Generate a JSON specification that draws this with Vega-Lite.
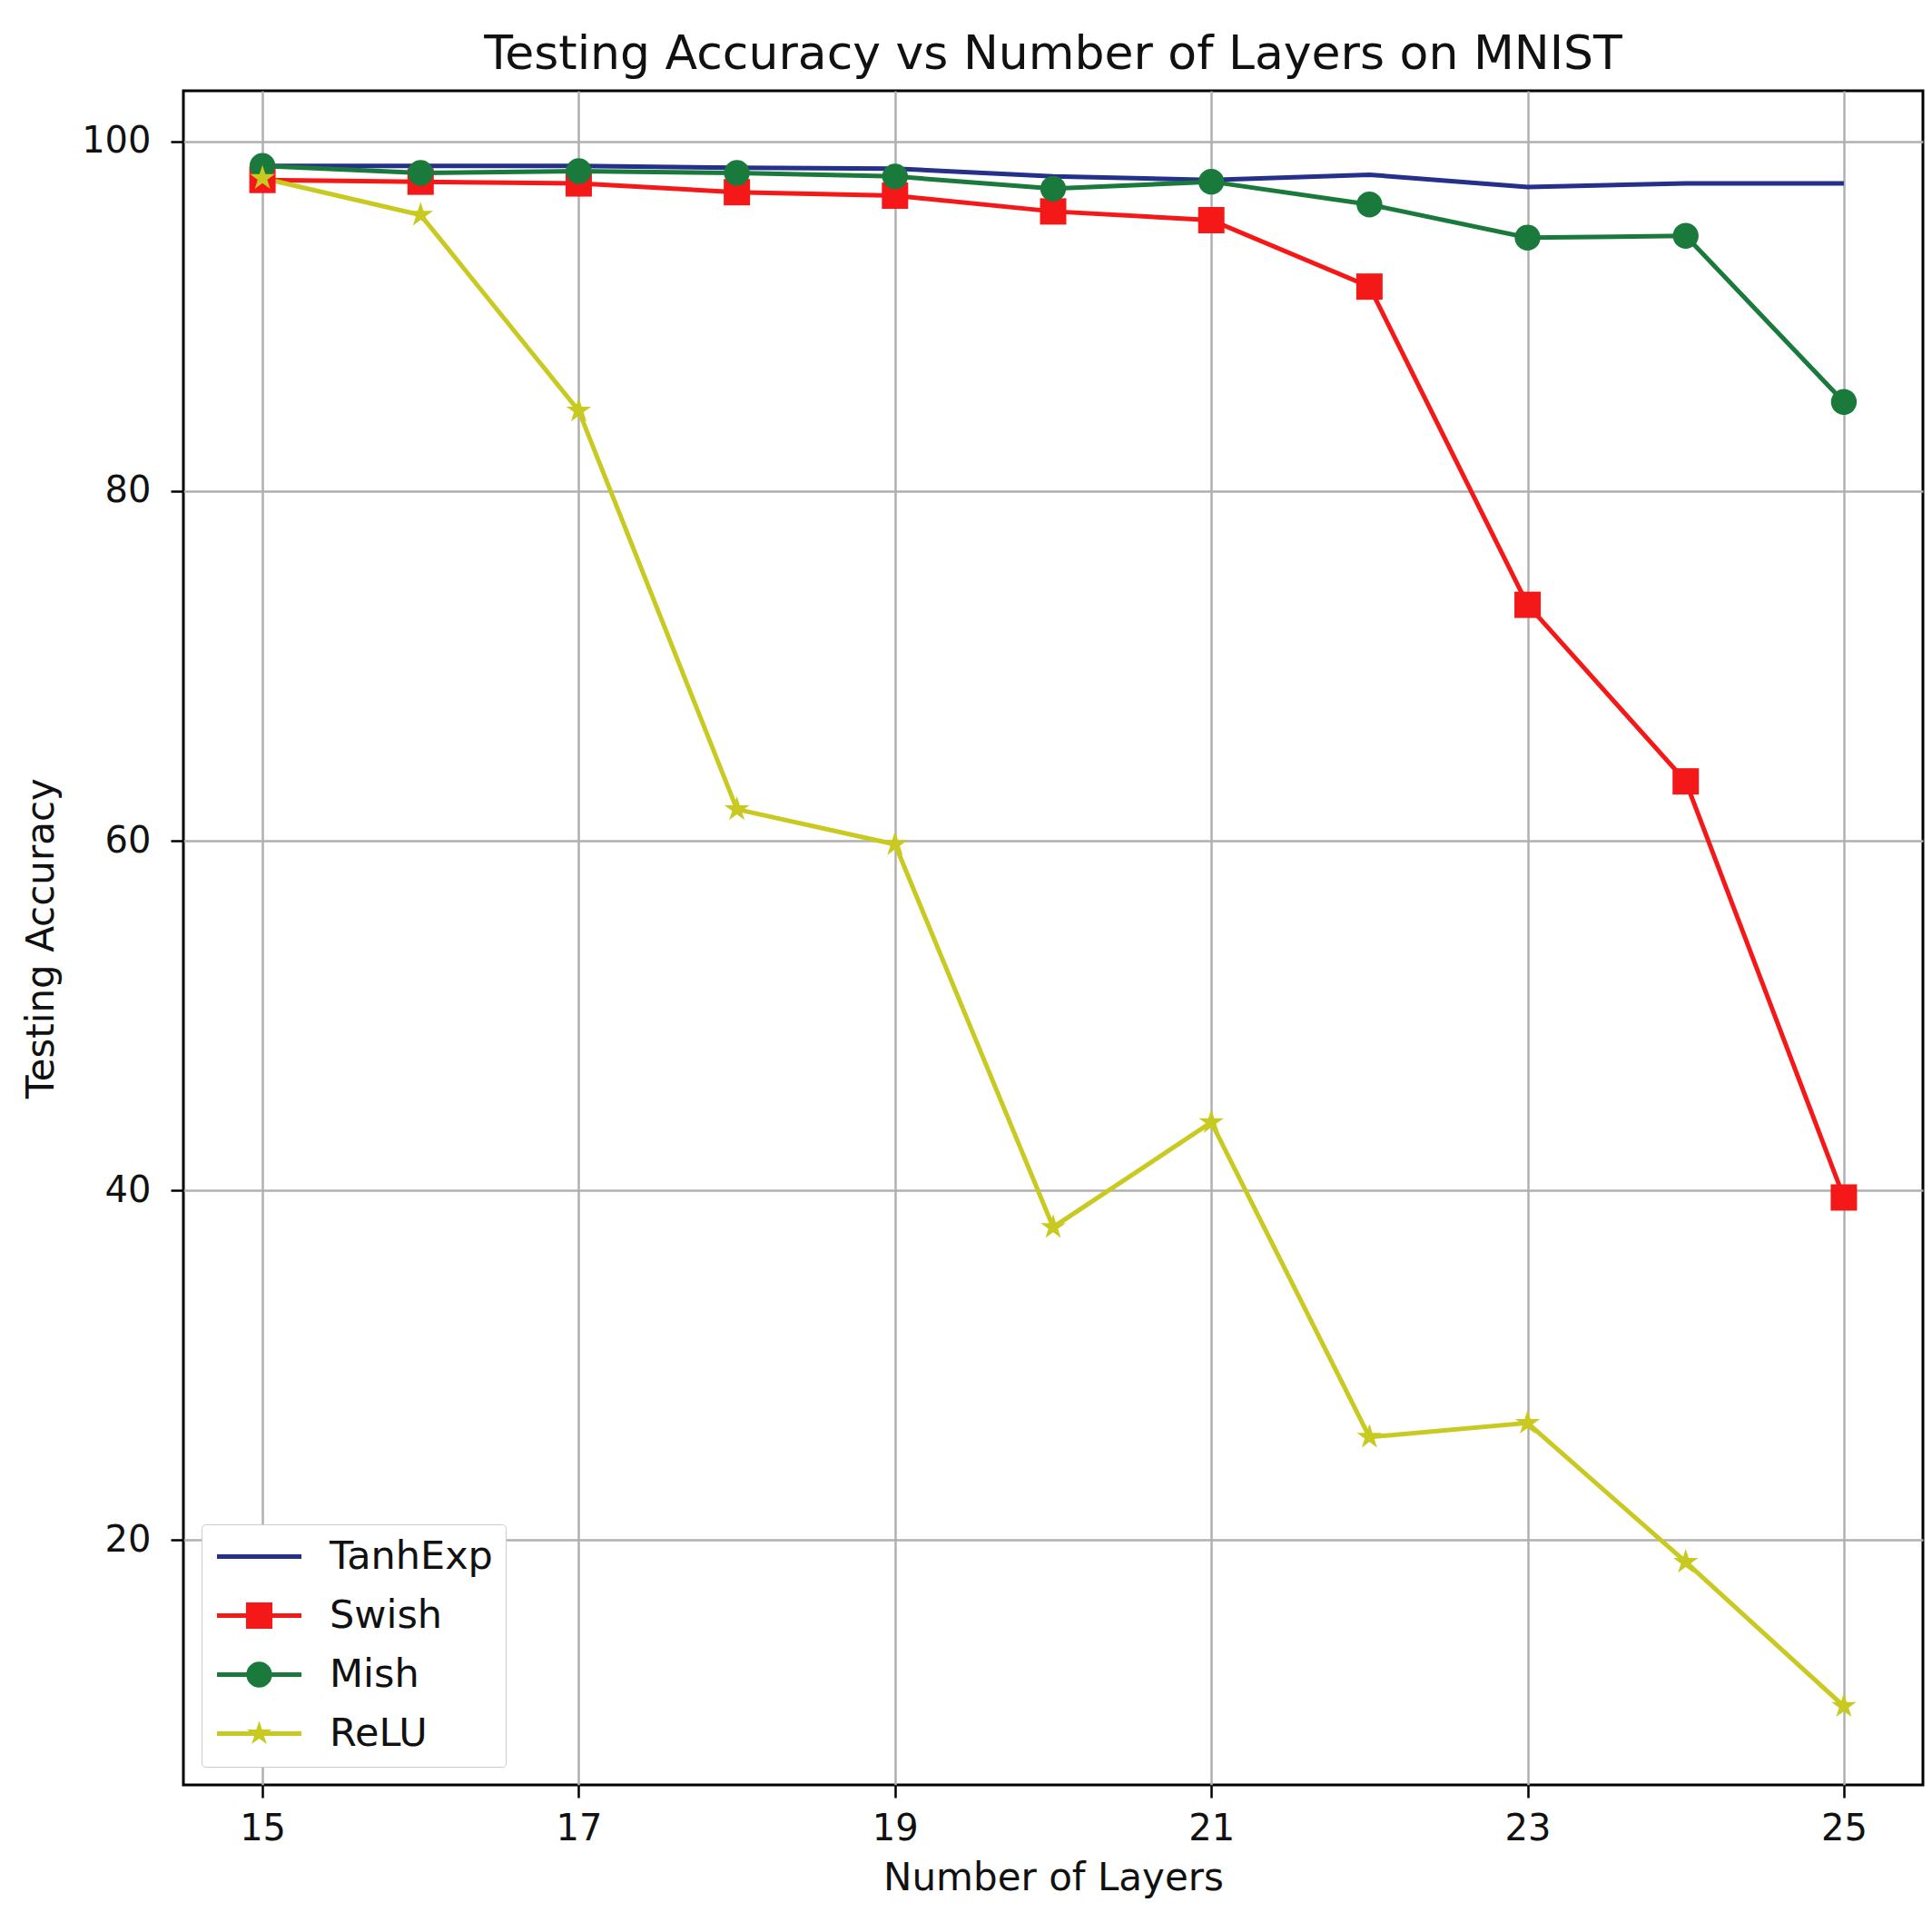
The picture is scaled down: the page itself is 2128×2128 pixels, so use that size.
{
  "$schema": "https://vega.github.io/schema/vega-lite/v6.json",
  "autosize": {"type": "none"},
  "width": 1916,
  "height": 1866,
  "padding": {"left": 202, "top": 100, "right": 10, "bottom": 162},
  "background": "white",
  "title": {
    "text": "Testing Accuracy vs Number of Layers on MNIST",
    "font": "DejaVu Sans",
    "fontSize": 52,
    "fontWeight": "normal",
    "color": "#111111",
    "anchor": "middle",
    "baseline": "alphabetic",
    "offset": 28,
    "dy": 56
  },
  "data": {
    "values": [
      {"layers": 15, "series": "TanhExp", "acc": 98.6},
      {"layers": 16, "series": "TanhExp", "acc": 98.6},
      {"layers": 17, "series": "TanhExp", "acc": 98.6},
      {"layers": 18, "series": "TanhExp", "acc": 98.5},
      {"layers": 19, "series": "TanhExp", "acc": 98.45},
      {"layers": 20, "series": "TanhExp", "acc": 98.0},
      {"layers": 21, "series": "TanhExp", "acc": 97.8},
      {"layers": 22, "series": "TanhExp", "acc": 98.1},
      {"layers": 23, "series": "TanhExp", "acc": 97.4},
      {"layers": 24, "series": "TanhExp", "acc": 97.6},
      {"layers": 25, "series": "TanhExp", "acc": 97.6},
      {"layers": 15, "series": "Swish", "acc": 97.8},
      {"layers": 16, "series": "Swish", "acc": 97.7},
      {"layers": 17, "series": "Swish", "acc": 97.6},
      {"layers": 18, "series": "Swish", "acc": 97.1},
      {"layers": 19, "series": "Swish", "acc": 96.9},
      {"layers": 20, "series": "Swish", "acc": 96.0},
      {"layers": 21, "series": "Swish", "acc": 95.5},
      {"layers": 22, "series": "Swish", "acc": 91.7},
      {"layers": 23, "series": "Swish", "acc": 73.5},
      {"layers": 24, "series": "Swish", "acc": 63.4},
      {"layers": 25, "series": "Swish", "acc": 39.6},
      {"layers": 15, "series": "Mish", "acc": 98.6},
      {"layers": 16, "series": "Mish", "acc": 98.2},
      {"layers": 17, "series": "Mish", "acc": 98.3},
      {"layers": 18, "series": "Mish", "acc": 98.2},
      {"layers": 19, "series": "Mish", "acc": 98.0},
      {"layers": 20, "series": "Mish", "acc": 97.3},
      {"layers": 21, "series": "Mish", "acc": 97.7},
      {"layers": 22, "series": "Mish", "acc": 96.4},
      {"layers": 23, "series": "Mish", "acc": 94.5},
      {"layers": 24, "series": "Mish", "acc": 94.6},
      {"layers": 25, "series": "Mish", "acc": 85.1},
      {"layers": 15, "series": "ReLU", "acc": 97.9},
      {"layers": 16, "series": "ReLU", "acc": 95.8},
      {"layers": 17, "series": "ReLU", "acc": 84.6},
      {"layers": 18, "series": "ReLU", "acc": 61.8},
      {"layers": 19, "series": "ReLU", "acc": 59.8},
      {"layers": 20, "series": "ReLU", "acc": 37.9},
      {"layers": 21, "series": "ReLU", "acc": 43.9},
      {"layers": 22, "series": "ReLU", "acc": 25.9},
      {"layers": 23, "series": "ReLU", "acc": 26.7},
      {"layers": 24, "series": "ReLU", "acc": 18.75},
      {"layers": 25, "series": "ReLU", "acc": 10.5}
    ]
  },
  "encoding": {
    "x": {
      "field": "layers",
      "type": "quantitative",
      "scale": {"domain": [14.5, 25.5], "nice": false, "zero": false},
      "axis": {
        "title": "Number of Layers",
        "values": [15, 17, 19, 21, 23, 25],
        "grid": true
      }
    },
    "y": {
      "field": "acc",
      "type": "quantitative",
      "scale": {"domain": [6.0, 102.9], "nice": false, "zero": false},
      "axis": {
        "title": "Testing Accuracy",
        "values": [20, 40, 60, 80, 100],
        "grid": true
      }
    },
    "color": {
      "field": "series",
      "type": "nominal",
      "scale": {
        "domain": ["TanhExp", "Swish", "Mish", "ReLU"],
        "range": ["#25308a", "#f51818", "#1a7a3c", "#c8ca22"]
      },
      "legend": {
        "title": null,
        "orient": "bottom-left",
        "offset": 20,
        "padding": 14,
        "rowPadding": 21,
        "symbolSize": 900,
        "symbolOffset": 28,
        "labelOffset": 56,
        "labelLimit": 500,
        "labelFont": "DejaVu Sans",
        "labelFontSize": 43,
        "labelColor": "#111111",
        "strokeColor": "#cccccc",
        "fillColor": "white",
        "cornerRadius": 4,
        "encode": {
          "symbols": {
            "update": {
              "shape": {"signal": "datum.value === 'TanhExp' ? 'M-3.1,-0.17H3.1V0.17H-3.1Z' : datum.value === 'Swish' ? 'M-3.1,-0.17H3.1V0.17H-3.1Z M-0.97,-0.97H0.97V0.97H-0.97Z' : datum.value === 'Mish' ? 'M-3.1,-0.17H3.1V0.17H-3.1Z M-0.95,0A0.95,0.95 0 1,1 0.95,0A0.95,0.95 0 1,1 -0.95,0Z' : 'M-3.1,-0.17H3.1V0.17H-3.1Z M0,-0.95L0.213,-0.294L0.904,-0.294L0.345,0.112L0.558,0.769L0,0.363L-0.558,0.769L-0.345,0.112L-0.904,-0.294L-0.213,-0.294Z'"},
              "fill": {"signal": "datum.value === 'TanhExp' ? '#25308a' : datum.value === 'Swish' ? '#f51818' : datum.value === 'Mish' ? '#1a7a3c' : '#c8ca22'"},
              "fillOpacity": {"value": 1},
              "opacity": {"value": 1},
              "strokeWidth": {"value": 0}
            }
          }
        }
      }
    }
  },
  "layer": [
    {
      "mark": {"type": "line", "strokeWidth": 5},
      "encoding": {"detail": {"field": "series"}}
    },
    {
      "transform": [{"filter": "datum.series !== 'TanhExp'"}],
      "mark": {"type": "point", "filled": true, "opacity": 1, "size": 841},
      "encoding": {
        "shape": {
          "field": "series",
          "type": "nominal",
          "scale": {
            "domain": ["Swish", "Mish", "ReLU"],
            "range": [
              "square",
              "M-0.98,0A0.98,0.98 0 1,1 0.98,0A0.98,0.98 0 1,1 -0.98,0Z",
              "M0,-1L0.2245,-0.309L0.951,-0.309L0.363,0.118L0.588,0.809L0,0.382L-0.588,0.809L-0.363,0.118L-0.951,-0.309L-0.2245,-0.309Z"
            ]
          },
          "legend": null
        }
      }
    }
  ],
  "config": {
    "font": "DejaVu Sans",
    "view": {"stroke": "black", "strokeWidth": 3},
    "axis": {
      "domain": false,
      "gridColor": "#b0b0b0",
      "gridWidth": 2.5,
      "gridOpacity": 1,
      "tickColor": "black",
      "tickWidth": 2.5,
      "tickSize": 14,
      "labelFont": "DejaVu Sans",
      "labelFontSize": 40,
      "labelColor": "#111111",
      "labelPadding": 14,
      "titleFont": "DejaVu Sans",
      "titleFontSize": 42,
      "titleFontWeight": "normal",
      "titleColor": "#111111"
    },
    "axisX": {"titlePadding": 14, "labelFlush": false},
    "axisY": {"titlePadding": 22, "labelPadding": 22}
  }
}
